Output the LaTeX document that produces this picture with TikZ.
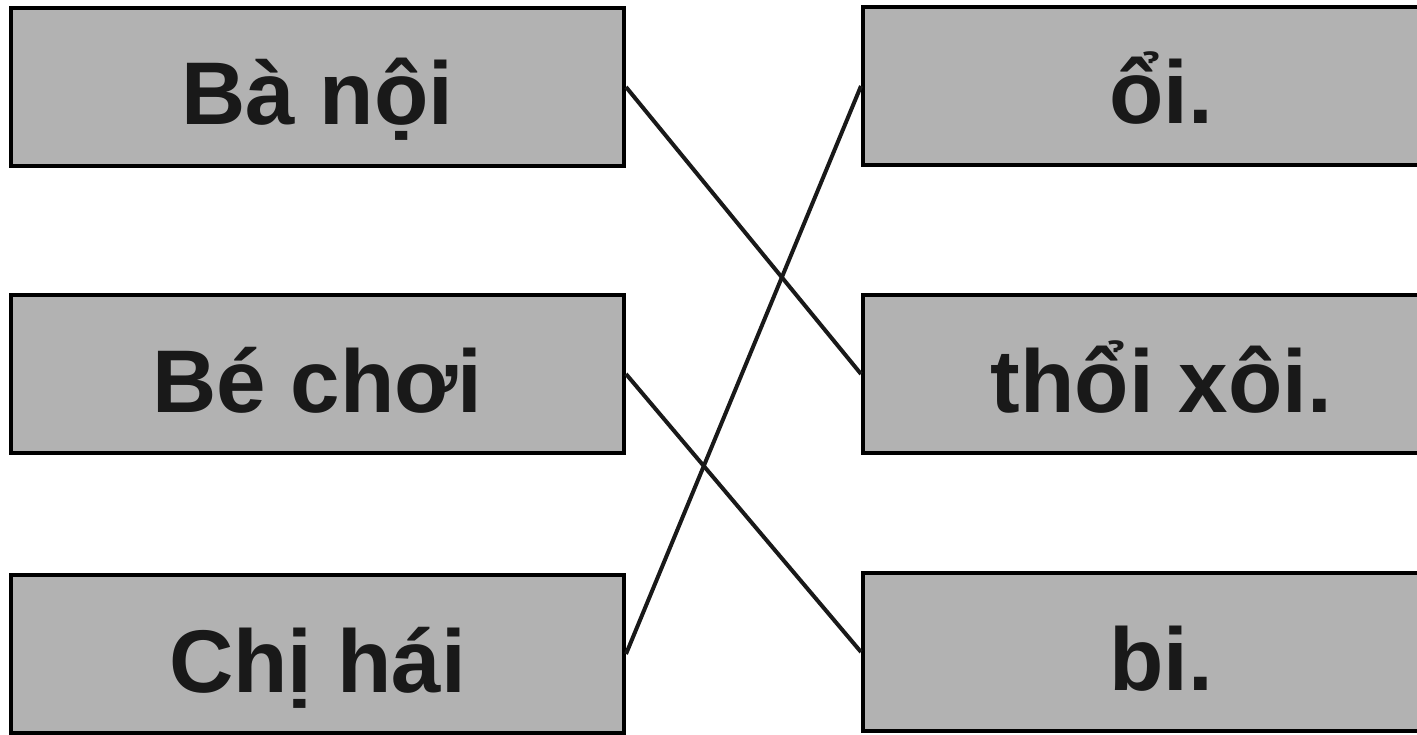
\documentclass[tikz,border=0pt]{standalone}
\usepackage{fontspec}
\setmainfont{Liberation Sans}
\begin{document}
\begin{tikzpicture}[x=1pt,y=-1pt,
  box/.style={draw=black, line width=4pt, fill=black!30, rectangle, inner sep=0pt,
    minimum height=158pt, text height=80pt, text depth=4pt,
    font=\fontsize{89}{100}\selectfont\bfseries, text=black!90},
  leftbox/.style={box, minimum width=613pt},
  rightbox/.style={box, minimum width=597pt},
  link/.style={line width=4pt, black!90}]
\useasboundingbox (0,0) rectangle (1417,735);
\clip (0,0) rectangle (1417,735);
\node[leftbox] (L1) at (317.5,87) {Bà nội};
\node[leftbox] (L2) at (317.5,374) {Bé chơi};
\node[leftbox] (L3) at (317.5,654) {Chị hái};
\node[rightbox] (R1) at (1161.5,86) {ổi.};
\node[rightbox] (R2) at (1161.5,374) {thổi xôi.};
\node[rightbox] (R3) at (1161.5,652) {bi.};
\draw[link] (L1.east) -- (R2.west);
\draw[link] (L2.east) -- (R3.west);
\draw[link] (L3.east) -- (R1.west);
\end{tikzpicture}
\end{document}
